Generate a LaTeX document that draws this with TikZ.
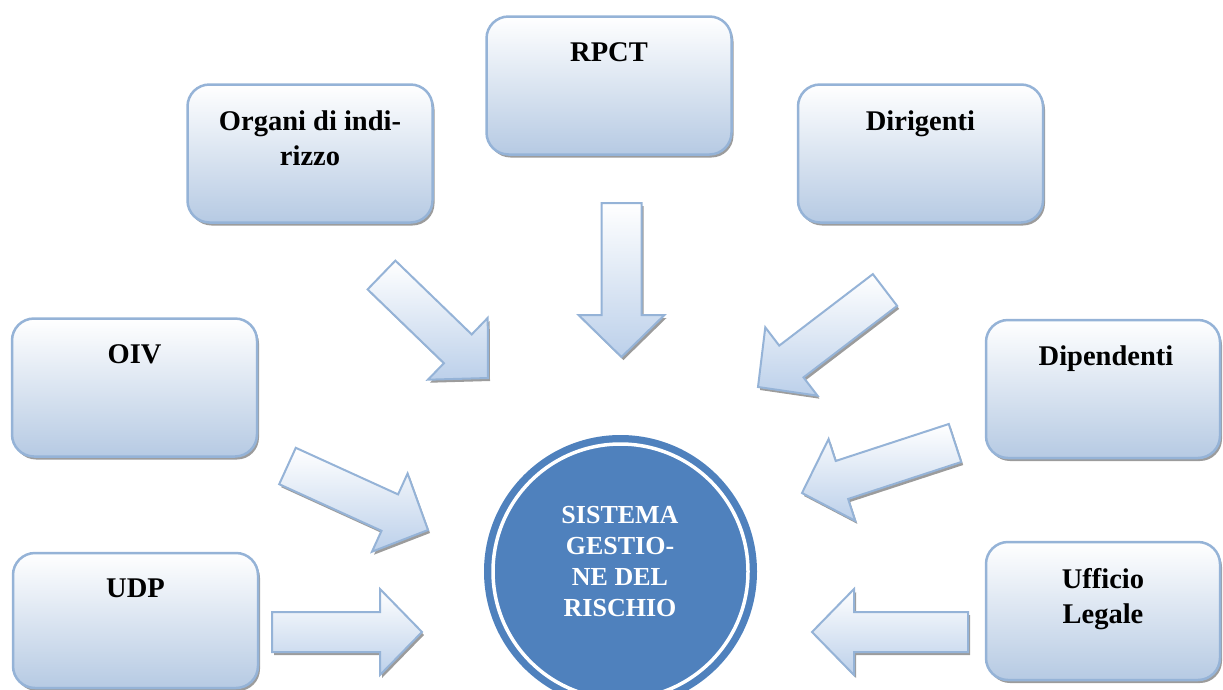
\documentclass[tikz,border=0pt]{standalone}
\usepackage{fontspec}
\setmainfont{Liberation Serif}
\usetikzlibrary{calc,shadows}
\definecolor{boxline}{HTML}{95B3D7}
\definecolor{boxbot}{HTML}{B6CAE3}
\definecolor{arrbot}{HTML}{BCD0EA}
\definecolor{circfill}{HTML}{4F81BD}
\definecolor{shadowc}{HTML}{5A5A5A}
\tikzset{
  box/.style={draw=boxline, line width=2.5pt, rounded corners=22pt, top color=white, bottom color=boxbot,
    minimum width=245pt, minimum height=138pt, inner sep=0pt,
    drop shadow={shadow xshift=2pt, shadow yshift=-3pt, fill=shadowc, opacity=.6}},
  boxtext/.style={anchor=north, align=center, inner sep=0pt, font=\fontsize{28.5}{35}\selectfont\bfseries},
  blockarr/.style={draw=boxline, line width=2pt, line join=miter, top color=white, bottom color=arrbot,
    drop shadow={shadow xshift=2pt, shadow yshift=-3pt, fill=shadowc, opacity=.6}},
  coretext/.style={anchor=north, align=center, inner sep=0pt, text=white, font=\fontsize{26}{31}\selectfont\bfseries},
}
\newcommand\blockarrow[3]{%
  \coordinate (#1-t) at #2;
  \coordinate (#1-p) at #3;
  \coordinate (#1-h) at ($(#1-p)!42pt!(#1-t)$);
  \draw[blockarr] ($(#1-t)!20pt!90:(#1-p)$) -- ($(#1-h)!20pt!90:(#1-p)$) -- ($(#1-h)!43pt!90:(#1-p)$)
    -- (#1-p) -- ($(#1-h)!43pt!-90:(#1-p)$) -- ($(#1-h)!20pt!-90:(#1-p)$) -- ($(#1-t)!20pt!-90:(#1-p)$) -- cycle;
}
\begin{document}
\begin{tikzpicture}[x=1pt, y=-1pt]
\useasboundingbox (0,0) rectangle (1223,689);
\clip (0,0) rectangle (1223,689);

% boxes
\node[box] (rpct) at (609,85.5) {};
\node[box] (org) at (310,153.5) {};
\node[box] (dir) at (920.5,153.5) {};
\node[box] (oiv) at (134.5,387.5) {};
\node[box, minimum width=234pt] (dip) at (1103,389) {};
\node[box, minimum height=135pt] (udp) at (135.5,620.5) {};
\node[box, minimum width=234pt] (uff) at (1103,611) {};

\node[boxtext] (t-rpct) at ([yshift=-27pt]rpct.north) {RPCT};
\node[boxtext] (t-org) at ([yshift=-27pt]org.north) {Organi di indi-\\rizzo};
\node[boxtext] (t-dir) at ([yshift=-27pt]dir.north) {Dirigenti};
\node[boxtext] (t-oiv) at ([yshift=-27pt]oiv.north) {OIV};
\node[boxtext] (t-dip) at ([xshift=3pt,yshift=-27pt]dip.north) {Dipendenti};
\node[boxtext] (t-udp) at ([yshift=-27pt]udp.north) {UDP};
\node[boxtext] (t-uff) at ([yshift=-27pt]uff.north) {Ufficio\\Legale};

% central circle
\node[circle, fill=circfill, minimum size=273pt, inner sep=0pt] (core) at (620.5,571.5) {};
\draw[white, line width=3.5pt] (core.center) circle[radius=127.5pt];
\node[coretext] (t-core) at (620,506.5) {SISTEMA\\GESTIO-\\NE DEL\\RISCHIO};

% block arrows
\blockarrow{a1}{(381.5,275)}{(488,378)}
\blockarrow{a2}{(621.5,203)}{(621.5,357)}
\blockarrow{a3}{(885,290)}{(758,387)}
\blockarrow{a4}{(287.5,466)}{(428,530)}
\blockarrow{a5}{(955,443)}{(802,493)}
\blockarrow{a6}{(272,632)}{(422,632)}
\blockarrow{a7}{(968,632)}{(812,632)}
\end{tikzpicture}
\end{document}
